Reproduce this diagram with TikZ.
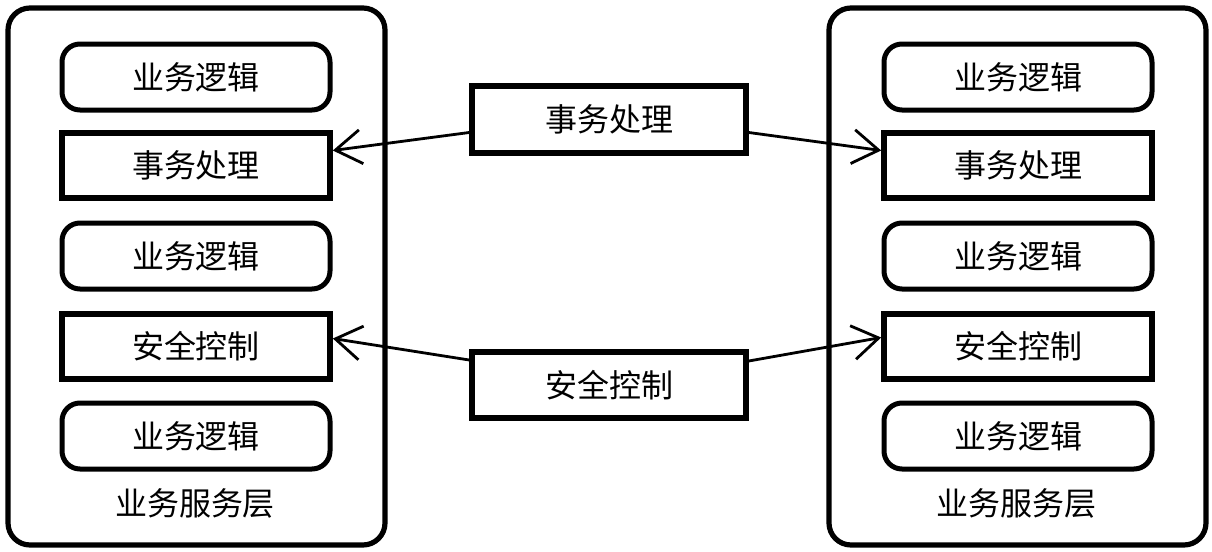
\documentclass[tikz,border=0pt]{standalone}
\usepackage{fontspec}
\setmainfont{Noto Sans CJK SC}
\usetikzlibrary{arrows.meta}

\begin{document}
\begin{tikzpicture}[x=0.5pt,y=-0.5pt,inner sep=0pt,
  font=\fontsize{16}{19}\selectfont,
  layer/.style={draw,line width=2.6pt,rounded corners=11pt,minimum width=188.5pt,minimum height=268.5pt},
  logic/.style={draw,line width=2.5pt,rounded corners=9pt,minimum width=134pt,minimum height=33pt},
  service/.style={draw,line width=2.8pt,minimum width=134pt,minimum height=32.5pt},
  call/.style={line width=1.4pt,-{Straight Barb[length=13pt,width=17pt,line width=1.4pt]}}]
\useasboundingbox (0,0) rectangle (1212,552);
\def\lx{196}
\def\rx{1018}
% service layers
\node[layer] (L) at (196.5,276.5) {};
\node[layer] (R) at (1017.5,276.5) {};
\node (Lname) at (195,503) {业务服务层};
\node (Rname) at (1016,503) {业务服务层};
% left column
\node[logic] (L1) at (\lx,77) {业务逻辑};
\node[service] (L2) at (\lx,165.5) {事务处理};
\node[logic] (L3) at (\lx,256) {业务逻辑};
\node[service] (L4) at (\lx,346.5) {安全控制};
\node[logic] (L5) at (\lx,436) {业务逻辑};
% right column
\node[logic] (R1) at (\rx,77) {业务逻辑};
\node[service] (R2) at (\rx,165.5) {事务处理};
\node[logic] (R3) at (\rx,256) {业务逻辑};
\node[service] (R4) at (\rx,346.5) {安全控制};
\node[logic] (R5) at (\rx,436) {业务逻辑};
% shared services
\node[service,minimum width=137pt,minimum height=33.5pt] (tx) at (609,119.5) {事务处理};
\node[service,minimum width=137pt,minimum height=33pt] (sec) at (609,385) {安全控制};

\draw[call] ([yshift=-6.5pt]tx.west) -- ([yshift=7.5pt]L2.east);
\draw[call] ([yshift=-6.5pt]tx.east) -- ([yshift=7.5pt]R2.west);
\draw[call] ([yshift=12.5pt]sec.west) -- ([yshift=4pt]L4.east);
\draw[call] ([yshift=12pt]sec.east) -- ([yshift=4.5pt]R4.west);
\end{tikzpicture}
\end{document}
